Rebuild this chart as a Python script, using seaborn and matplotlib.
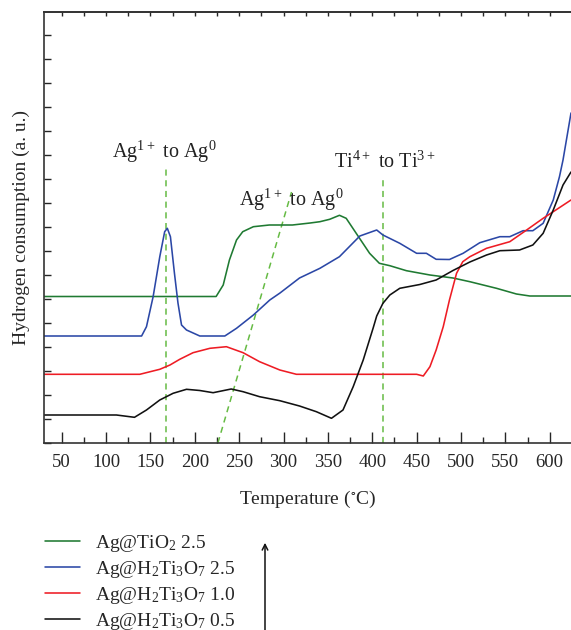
import numpy as np
import pandas as pd
import seaborn as sns
import matplotlib
matplotlib.use('Agg')
import matplotlib.pyplot as plt
from matplotlib.ticker import MultipleLocator

# H2-TPR curves: temperature (°C) and signal height (a. u.)
t_tio2_25 = [30, 100, 150, 200, 224, 232, 239, 247, 254, 266, 284, 310, 330, 341, 352,
             363, 370.6, 381.9, 397, 408, 419.8, 438.5, 465, 491, 510, 540, 562.5, 577.6,
             600, 624]
h_tio2_25 = [146.5, 146.5, 146.5, 146.5, 146.5, 158, 183, 203, 211.3, 216.3, 218, 218, 220,
             221.3, 223.7, 227.7, 224.7, 209.7, 189.7, 179.7, 177.3, 172.3, 168, 165,
             161.3, 154.7, 149, 147, 147, 147]

t_hti_25 = [30, 100, 140, 145.5, 153, 160.5, 166, 169, 172.5, 177, 181, 185, 190.6, 205.6,
            233.8, 247, 266, 284.5, 296, 318, 341, 363, 386, 405, 412, 431, 450, 461,
            472, 487, 502.4, 521.2, 543.8, 555, 570, 581, 592.6, 604, 611, 615, 624]
h_hti_25 = [107, 107, 107, 116.3, 146.3, 186.3, 211.3, 214.7, 206.3, 170, 140, 118, 113,
            107, 107, 114.7, 128, 143, 150, 165, 174.7, 186.3, 207, 213, 208, 199.7, 189.7,
            189.7, 183.7, 183.5, 189.7, 200.3, 206.3, 206.3, 212.3, 212.3, 219.7, 243,
            266.3, 283, 330]

t_hti_10 = [30, 100, 138, 160.5, 172, 183, 198, 217, 235.6, 254.4, 273, 295.8, 314.5, 350,
            400, 450, 457.5, 465, 472, 480, 487, 495, 502, 510, 528.8, 555, 574, 592.6,
            604, 624]
h_hti_10 = [68.7, 68.7, 68.7, 73.7, 78, 83.7, 90.3, 94.7, 96.3, 90.3, 81.3, 73, 68.7, 68.7,
            68.7, 68.7, 67, 76.3, 93, 116.3, 143, 169.7, 181.3, 186.3, 194.7, 201.3, 213,
            224.7, 231.3, 243]

t_hti_05 = [30, 100, 111.6, 132, 145.5, 160.5, 175.5, 190.6, 205.6, 220.6, 241, 254.4, 273,
            295.8, 318, 337, 354, 367, 378.5, 389.8, 401, 405, 412, 419.8, 431, 453.6,
            472, 491, 510, 528.8, 543.8, 566, 581, 592.6, 604, 615, 624]
h_hti_05 = [28, 28, 28, 25.7, 33, 43, 49.7, 53.7, 52.5, 50.3, 54, 51.3, 46.3, 42.3, 37,
            31.3, 24.7, 33, 56.3, 83, 115, 127, 139.7, 148, 154.7, 158.5, 163, 172.5,
            181, 188, 192.3, 193, 198, 209.7, 233, 258, 271]

labels = [r'Ag@TiO$_2$ 2.5',
          r'Ag@H$_2$Ti$_3$O$_7$ 2.5',
          r'Ag@H$_2$Ti$_3$O$_7$ 1.0',
          r'Ag@H$_2$Ti$_3$O$_7$ 0.5']
colors = ['#1f7a32', '#2b47a6', '#ee1c24', '#111111']

# reduction markers (dashed guides) and their captions
peak_ag = 168
peak_ti = 412
slant_t = [226, 309]
slant_h = [0, 251]
notes = [(r'Ag$^{1+}$ to Ag$^0$', 166, 291),
         (r'Ag$^{1+}$ to Ag$^0$', 309, 243),
         (r'Ti$^{4+}$ to Ti$^{3+}$', 414, 281)]

sns.set_style('ticks')
plt.rcParams['font.family'] = ['Liberation Serif', 'DejaVu Serif']
plt.rcParams['mathtext.fontset'] = 'custom'
plt.rcParams['mathtext.rm'] = 'Liberation Serif'
plt.rcParams['mathtext.default'] = 'regular'

df = pd.concat([
    pd.DataFrame({'T': t, 'H': h, 'sample': lab})
    for t, h, lab in zip([t_tio2_25, t_hti_25, t_hti_10, t_hti_05],
                         [h_tio2_25, h_hti_25, h_hti_10, h_hti_05], labels)
])

fig = plt.figure(figsize=(5.71, 6.30), dpi=100)
ax = fig.add_axes([44 / 571, 187 / 630, 1 - 44 / 571, 431 / 630])

sns.lineplot(data=df, x='T', y='H', hue='sample', hue_order=labels, palette=colors,
             estimator=None, sort=False, lw=1.15, ax=ax)

guide = dict(color='#66bb44', lw=1.1, ls=(0, (4, 3)), zorder=1)
ax.plot([peak_ag, peak_ag], [0, 275], **guide)
ax.plot([peak_ti, peak_ti], [0, 263], **guide)
ax.plot(slant_t, slant_h, **guide)
for txt, x, y in notes:
    ax.text(x, y, txt, ha='center', va='center', fontsize=14.5, color='#222222')

ax.set_xlim(30, 624)
ax.set_ylim(0, 431)
ax.xaxis.set_major_locator(MultipleLocator(50))
ax.xaxis.set_minor_locator(MultipleLocator(25))
ax.yaxis.set_major_locator(MultipleLocator(24))
ax.tick_params(axis='x', which='major', direction='in', length=8, width=1, labelsize=13.5, pad=8)
ax.tick_params(axis='x', which='minor', direction='in', length=4, width=1)
ax.tick_params(axis='y', direction='in', length=5, width=1, labelleft=False)
top = ax.secondary_xaxis('top')
top.xaxis.set_major_locator(MultipleLocator(25))
top.tick_params(direction='in', length=3, width=1, labeltop=False)
ax.spines['right'].set_visible(False)
for s in ['left', 'bottom', 'top']:
    ax.spines[s].set_linewidth(1.2)
    ax.spines[s].set_color('#333333')
top.spines['top'].set_linewidth(1.2)

ax.set_xlabel(r'Temperature ($^{\circ}$C)', fontsize=14, labelpad=13)
ax.set_ylabel('Hydrogen consumption (a. u.)', fontsize=14, labelpad=10)

handles, labs = ax.get_legend_handles_labels()
ax.get_legend().remove()
fig.legend(handles, labs, loc='upper left', bbox_to_anchor=(45 / 571, 97 / 630),
           frameon=False, fontsize=14, handlelength=1.8, handletextpad=0.75,
           labelspacing=0.25, borderpad=0, borderaxespad=0)

ax.annotate('', xy=(265, 90), xytext=(265, -5), xycoords='figure pixels',
            textcoords='figure pixels', annotation_clip=False,
            arrowprops=dict(arrowstyle='->', lw=1.1, color='#111111'))

fig.savefig('out.png', dpi=100)
